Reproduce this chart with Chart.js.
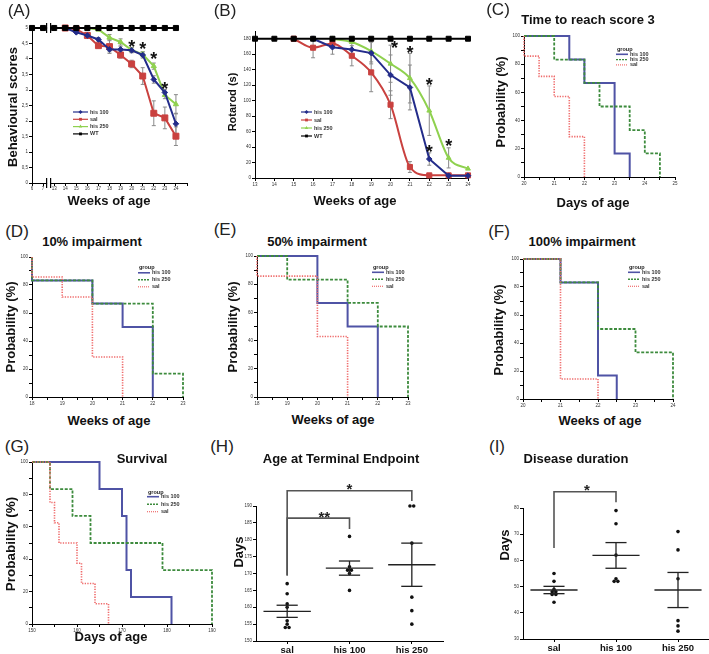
<!DOCTYPE html>
<html>
<head>
<meta charset="utf-8">
<title>Behaviour, rotarod and survival</title>
<script src="https://cdn.jsdelivr.net/npm/chart.js@4.4.1/dist/chart.umd.min.js"></script>
<style>
  html, body { margin: 0; padding: 0; background: #fff; }
  #fig { position: relative; width: 709px; height: 654px; overflow: hidden; background: #fff;
         font-family: "Liberation Sans", Arial, sans-serif; color: #111; }
  .box { position: absolute; z-index: 1; }
  .txt { position: absolute; white-space: nowrap; line-height: 1; z-index: 2;
         transform: translate(-50%, -50%); }
  .rot { transform: translate(-50%, -50%) rotate(-90deg); }
  .tag { font-size: 17px; color: #222; }
  .ttl { font-size: 13px; font-weight: bold; }
</style>
</head>
<body>
<div id="fig"></div>
<script>
// ---------- (A) behavioural scores ----------
const weeksA = ['6', '7', '13', '14', '15', '16', '17', '18', '19', '20', '21', '22', '23', '24'];
const scoreWT = [5, 5, 5, 5, 5, 5, 5, 5, 5, 5, 5, 5, 5, 5];
const scoreHis100 = [null, null, null, 5, 4.86, 4.76, 4.63, 4.31, 4.31, 4.28, 4.13, 3.34, 2.92, 1.91];
const scoreHis100Err = [null, null, null, null, 0.04, 0.05, 0.06, 0.08, 0.1, 0.08, 0.1, 0.12, 0.1, 0.34];
const scoreSal = [null, null, null, 5, 4.96, 4.76, 4.43, 4.4, 4.13, 3.84, 3.45, 2.25, 2.1, 1.51];
const scoreSalErr = [null, null, null, null, 0.03, 0.1, 0.06, 0.22, 0.1, 0.12, 0.27, 0.4, 0.35, 0.3];
const scoreHis250 = [null, null, null, 5, 5, 5, 4.95, 4.69, 4.55, 4.29, 4.15, 3.77, 2.84, 2.54];
const scoreHis250Err = [null, null, null, null, null, null, 0.04, 0.1, 0.1, 0.08, 0.08, 0.1, 0.12, 0.31];
const starsA = [['20', 4.53], ['21', 4.47], ['22', 4.15], ['23', 3.18]];

// ---------- (B) rotarod ----------
const weeksB = [13, 14, 15, 16, 17, 18, 19, 20, 21, 22, 23, 24];
const rotWT = [180, 180, 180, 180, 180, 180, 180, 180, 180, 180, 180, 180];
const rotHis100 = [null, null, null, 180, 169, 166, 161.5, 133, 117, 24.5, 3, 3];
const rotHis100Err = [null, null, null, null, 9, 8, 14, 26, 29, 8, null, null];
const rotSal = [null, null, 180, 168.4, 174, 158, 136.5, 94.7, 14.2, 3.4, 3.4, 3.4];
const rotSalErr = [null, null, null, 13, 6, 13, 25, 18, 7, null, null, null];
const rotHis250 = [null, null, null, null, 180, 175.7, 164, 147.7, 129, 87, 26, 12];
const rotHis250Err = [null, null, null, null, null, null, 14, 24, 32, 32, 13, null];
const starsB = [[20.2, 174], [21, 167], [22, 126], [22, 39], [23, 47]];

// ---------- (C) time to reach score 3 ----------
const cTime100 = [20, 21.5, 22, 23, 23.5];
const cProb100 = [100, 83.3, 66.7, 16.7, 0];
const cTime250 = [20, 21, 22, 22.5, 23.5, 24, 24.5];
const cProb250 = [100, 83.3, 66.7, 50, 33.3, 16.7, 0];
const cTimeSal = [20, 20, 20.5, 21, 21.5, 22];
const cProbSal = [100, 85.7, 71.4, 57.1, 28.6, 0];

// ---------- (D) 10% impairment ----------
const dTime100 = [18, 18, 20, 21, 22];
const dProb100 = [100, 83.3, 66.7, 50, 0];
const dTime250 = [18, 18, 20, 22, 23];
const dProb250 = [100, 83.3, 66.7, 16.7, 0];
const dTimeSal = [18, 18, 19, 20, 21];
const dProbSal = [100, 85.7, 71.4, 28.6, 0];

// ---------- (E) 50% impairment ----------
const eTime100 = [18, 20, 21, 22];
const eProb100 = [100, 66.7, 50, 0];
const eTime250 = [18, 19, 21, 22, 23];
const eProb250 = [100, 83.3, 66.7, 50, 0];
const eTimeSal = [18, 18, 20, 21];
const eProbSal = [100, 85.7, 42.9, 0];

// ---------- (F) 100% impairment ----------
const fTime100 = [20, 21, 22, 22.5];
const fProb100 = [100, 83.3, 16.7, 0];
const fTime250 = [20, 21, 22, 23, 24];
const fProb250 = [100, 83.3, 50, 33.3, 0];
const fTimeSal = [20, 21, 22];
const fProbSal = [100, 14.3, 0];

// ---------- (G) survival ----------
const gTime100 = [150, 165, 170, 171, 172, 181];
const gProb100 = [100, 83.3, 66.7, 33.3, 16.7, 0];
const gTime250 = [150, 154, 159, 163, 179, 190];
const gProb250 = [100, 83.3, 66.7, 50, 33.3, 0];
const gTimeSal = [150, 154, 155, 156, 160, 161, 164, 167];
const gProbSal = [100, 75, 62.5, 50, 37.5, 25, 12.5, 0];

// ---------- (H) age at terminal endpoint, (I) disease duration ----------
const groupsHI = ['sal', 'his 100', 'his 250'];
const endSal = [154, 154, 155, 156, 160, 161, 164, 167];
const endHis100 = [165, 170, 171, 171, 172, 181];
const endHis250 = [155, 159, 163, 179, 190, 190];
const endMean = [158.8, 171.6, 172.6];
const endSem = [1.8, 2.1, 6.4];
const durSal = [55, 52, 49, 48, 48, 47, 47, 44];
const durHis100 = [79, 74, 62, 53, 52, 52];
const durHis250 = [71, 64, 53, 37, 35, 33];
const durMean = [48.7, 61.9, 48.7];
const durSem = [1.4, 4.9, 6.7];

// ---------- styling ----------
const FONT = '"Liberation Sans", Arial, sans-serif';
const TICK_FONT = { family: FONT, size: 4.5 };
const BLUE = '#232c8a', RED = '#c9413f', GREEN = '#8fd14f', BLACK = '#000';
const BLUE_KM = '#4f53a5', GREEN_KM = '#3d8b3d', RED_KM = '#ef6c6c';
const AXW = 26;

const fig = document.getElementById('fig');

function mount(id, L, T, R, B, padT, padR, axh) {
  const d = document.createElement('div');
  d.className = 'box';
  d.style.left = (L - AXW) + 'px';
  d.style.top = (T - padT) + 'px';
  d.style.width = (R - L + AXW + padR) + 'px';
  d.style.height = (B - T + padT + axh) + 'px';
  const c = document.createElement('canvas');
  c.id = id;
  d.appendChild(c);
  fig.appendChild(d);
  return c;
}

function addText(text, cx, cy, cls, rot, size) {
  const s = document.createElement('div');
  s.className = 'txt ' + cls + (rot ? ' rot' : '');
  s.style.left = cx + 'px';
  s.style.top = cy + 'px';
  if (size) s.style.fontSize = size + 'px';
  s.textContent = text;
  fig.appendChild(s);
}

function baseOptions(padT, padR, scales) {
  return {
    responsive: true,
    maintainAspectRatio: false,
    animation: false,
    devicePixelRatio: 1,
    events: [],
    layout: { padding: { top: padT, right: padR, left: 0, bottom: 0 } },
    plugins: { legend: { display: false }, tooltip: { enabled: false }, title: { display: false } },
    scales
  };
}

function axisLook(height, width) {
  return {
    afterFit: s => {
      if (height) s.height = height;
      if (width) s.width = width;
    },
    border: { display: true, color: '#000', width: 1 },
    grid: { display: true, drawOnChartArea: false, drawTicks: true, tickLength: 3, color: '#000', lineWidth: 1 }
  };
}

function linAxis(min, max, step, fmt, axh) {
  return Object.assign(axisLook(axh, axh ? 0 : AXW), {
    type: 'linear', min, max,
    ticks: { stepSize: step, includeBounds: false, callback: fmt, font: TICK_FONT, color: '#333', padding: 1, autoSkip: false, maxRotation: 0 }
  });
}

// ---------- plugins ----------
const errorBars = {
  id: 'errorBars',
  beforeDatasetsDraw(chart) {
    const { ctx, scales: { y } } = chart;
    ctx.save();
    ctx.strokeStyle = '#8a8a8a';
    ctx.lineWidth = 1;
    chart.data.datasets.forEach((ds, i) => {
      if (!ds.errs) return;
      const meta = chart.getDatasetMeta(i);
      meta.data.forEach((pt, j) => {
        const e = ds.errs[j];
        const raw = ds.data[j];
        const v = raw !== null && typeof raw === 'object' ? raw.y : raw;
        if (e == null || v == null) return;
        const y0 = y.getPixelForValue(v - e), y1 = y.getPixelForValue(v + e);
        ctx.beginPath();
        ctx.moveTo(pt.x, y0); ctx.lineTo(pt.x, y1);
        ctx.moveTo(pt.x - 2, y0); ctx.lineTo(pt.x + 2, y0);
        ctx.moveTo(pt.x - 2, y1); ctx.lineTo(pt.x + 2, y1);
        ctx.stroke();
      });
    });
    ctx.restore();
  }
};

function starPlugin(list, size) {
  return {
    id: 'stars',
    afterDatasetsDraw(chart) {
      const { ctx, scales: { x, y } } = chart;
      ctx.save();
      ctx.fillStyle = '#111';
      ctx.textAlign = 'center';
      ctx.textBaseline = 'alphabetic';
      ctx.font = 'bold ' + size + 'px ' + FONT;
      list.forEach(([sx, sy]) => ctx.fillText('*', x.getPixelForValue(sx), y.getPixelForValue(sy) + size * 0.57));
      ctx.restore();
    }
  };
}

function legendPlugin(o) {
  return {
    id: 'inlegend',
    afterDraw(chart) {
      const { ctx, chartArea: a } = chart;
      const x = a.left + o.dx;
      let y = a.top + o.dy;
      ctx.save();
      ctx.textBaseline = 'middle';
      ctx.textAlign = 'left';
      ctx.font = 'bold ' + o.size + 'px ' + FONT;
      if (o.header) {
        ctx.fillStyle = '#222';
        ctx.fillText(o.header, x + 1, y);
        y += o.gap;
      }
      o.items.forEach(it => {
        ctx.strokeStyle = it.color;
        ctx.lineWidth = it.width || 1.2;
        ctx.setLineDash(it.dash || []);
        ctx.beginPath();
        ctx.moveTo(x, y); ctx.lineTo(x + o.len, y);
        ctx.stroke();
        ctx.setLineDash([]);
        if (it.point) {
          ctx.fillStyle = it.color;
          Chart.helpers.drawPoint(ctx, { pointStyle: it.point, radius: 2, borderWidth: 0, rotation: 0 }, x + o.len / 2, y);
        }
        ctx.fillStyle = '#333';
        ctx.fillText(it.label, x + o.len + 2, y);
        y += o.row;
      });
      ctx.restore();
    }
  };
}

function breakPlugin(at, levels) {
  return {
    id: 'axisBreak',
    afterDraw(chart) {
      const { ctx, scales: { x, y } } = chart;
      const px = x.getPixelForValue(at);
      levels.forEach(v => {
        const py = y.getPixelForValue(v);
        ctx.save();
        ctx.fillStyle = '#fff';
        ctx.fillRect(px - 1.5, py - 2, 3, 4);
        ctx.strokeStyle = '#000';
        ctx.lineWidth = 1.2;
        [-2, 2].forEach(d => {
          ctx.beginPath();
          ctx.moveTo(px + d, py - 5); ctx.lineTo(px + d, py + 5);
          ctx.stroke();
        });
        ctx.restore();
      });
    }
  };
}

function meanSemPlugin(means, sems) {
  return {
    id: 'meanSem',
    afterDatasetsDraw(chart) {
      const { ctx, scales: { x, y } } = chart;
      const seg = (x0, y0, x1, y1) => {
        ctx.beginPath();
        ctx.moveTo(x.getPixelForValue(x0), y.getPixelForValue(y0));
        ctx.lineTo(x.getPixelForValue(x1), y.getPixelForValue(y1));
        ctx.stroke();
      };
      ctx.save();
      ctx.strokeStyle = '#222';
      ctx.lineWidth = 1.3;
      means.forEach((m, g) => {
        const s = sems[g];
        seg(g - 0.38, m, g + 0.38, m);
        seg(g, m - s, g, m + s);
        seg(g - 0.17, m + s, g + 0.17, m + s);
        seg(g - 0.17, m - s, g + 0.17, m - s);
      });
      ctx.restore();
    }
  };
}

function bracketPlugin(list) {
  return {
    id: 'brackets',
    afterDraw(chart) {
      const { ctx, scales: { x, y } } = chart;
      ctx.save();
      ctx.strokeStyle = '#555';
      ctx.lineWidth = 1.6;
      list.forEach(b => {
        const xa = x.getPixelForValue(b.a), xb = x.getPixelForValue(b.b), yt = y.getPixelForValue(b.top);
        ctx.beginPath();
        ctx.moveTo(xa, y.getPixelForValue(b.downA));
        ctx.lineTo(xa, yt);
        ctx.lineTo(xb, yt);
        ctx.lineTo(xb, y.getPixelForValue(b.downB));
        ctx.stroke();
        ctx.fillStyle = '#222';
        ctx.textAlign = 'center';
        ctx.textBaseline = 'alphabetic';
        ctx.font = 'bold 15px ' + FONT;
        ctx.fillText(b.label, (xa + xb) / 2 + b.shift, yt - 5 + 15 * 0.57);
      });
      ctx.restore();
    }
  };
}

// ---------- builders ----------
function lineSet(label, data, color, point, radius, errs, extra) {
  return Object.assign({
    label, data, errs,
    borderColor: color, backgroundColor: color,
    pointBackgroundColor: color, pointBorderColor: color, pointBorderWidth: 1,
    pointStyle: point, pointRadius: radius,
    borderWidth: 2, tension: 0, clip: false, spanGaps: false
  }, extra || {});
}

function pairs(xs, ys) {
  return xs.map((v, i) => ({ x: v, y: ys[i] }));
}

function kmSet(label, times, probs, color, dash, width) {
  return {
    label, data: pairs(times, probs),
    borderColor: color, borderDash: dash, borderWidth: width,
    pointRadius: 0, stepped: true, fill: false, clip: false
  };
}

const KM_ITEMS = [
  { label: 'his 100', color: BLUE_KM, width: 1.6 },
  { label: 'his 250', color: GREEN_KM, width: 1.4, dash: [2, 1] },
  { label: 'sal', color: RED_KM, width: 1.2, dash: [1, 1] }
];

function kmChart(id, rect, xmin, xmax, xstep, xmajor, s100, s250, sSal, lg) {
  const [L, T, R, B] = rect;
  return new Chart(mount(id, L, T, R, B, 6, 8, 12), {
    type: 'line',
    data: {
      datasets: [
        kmSet('sal', sSal[0], sSal[1], RED_KM, [1.3, 1.3], 1.6),
        kmSet('his 250', s250[0], s250[1], GREEN_KM, [3, 1.6], 1.8),
        kmSet('his 100', s100[0], s100[1], BLUE_KM, [], 2)
      ]
    },
    options: baseOptions(6, 8, {
      x: linAxis(xmin, xmax, xstep, v => (v % xmajor === 0 ? v : ''), 12),
      y: linAxis(0, 100, 10, v => (v % 20 === 0 ? v : ''))
    }),
    plugins: [legendPlugin(Object.assign({ header: 'group', size: 5.5, len: 12, items: KM_ITEMS }, lg))]
  });
}

function swarm(vals, g, tol) {
  return vals.map((v, i) => {
    const same = vals.filter(u => Math.abs(u - v) < tol).length;
    const k = vals.slice(0, i).filter(u => Math.abs(u - v) < tol).length;
    return { x: g + (k - (same - 1) / 2) * 0.06, y: v };
  });
}

function dotChart(id, rect, padT, axh, ymin, ymax, ystep, groups, means, sems, brackets) {
  const [L, T, R, B] = rect;
  const xAxis = Object.assign(axisLook(axh, 0), {
    type: 'linear', min: -0.5, max: 2.5,
    afterBuildTicks: s => { s.ticks = groupsHI.map((g, i) => ({ value: i })); },
    ticks: { callback: v => groupsHI[v], font: { family: FONT, size: 9.5, weight: 'bold' }, color: '#111', padding: 1, autoSkip: false, maxRotation: 0 }
  });
  return new Chart(mount(id, L, T, R, B, padT, 6, axh), {
    type: 'scatter',
    data: {
      datasets: groups.map((vals, g) => ({
        label: groupsHI[g], data: swarm(vals, g, 0.6),
        pointRadius: 1.8, pointBackgroundColor: '#111', pointBorderColor: '#111', pointBorderWidth: 0, clip: false
      }))
    },
    options: baseOptions(padT, 6, { x: xAxis, y: linAxis(ymin, ymax, ystep, v => v) }),
    plugins: [meanSemPlugin(means, sems), bracketPlugin(brackets)]
  });
}

// ---------- (A) ----------
new Chart(mount('chartA', 32, 28, 187, 183, 10, 8, 12), {
  type: 'line',
  data: {
    labels: [...weeksA, ''],
    datasets: [
      lineSet('WT', scoreWT, BLACK, 'rect', 3.6),
      lineSet('his 100', scoreHis100, BLUE, 'rectRot', 2.8, scoreHis100Err),
      lineSet('sal', scoreSal, RED, 'rect', 4.2, scoreSalErr),
      lineSet('his 250', scoreHis250, GREEN, 'triangle', 3, scoreHis250Err)
    ]
  },
  options: baseOptions(10, 8, {
    x: Object.assign(axisLook(12, 0), {
      type: 'category', offset: false,
      ticks: { font: TICK_FONT, color: '#333', padding: 0, autoSkip: false, maxRotation: 0 }
    }),
    y: linAxis(0, 5, 0.5, v => String(v).replace('.', ','))
  }),
  plugins: [
    errorBars,
    starPlugin(starsA.map(([w, v]) => [weeksA.indexOf(w), v]), 18),
    legendPlugin({ dx: 41, dy: 84, len: 15, row: 7.3, size: 5.5, items: [
      { label: 'his 100', color: BLUE, point: 'rectRot' },
      { label: 'sal', color: RED, point: 'rect' },
      { label: 'his 250', color: GREEN, point: 'triangle' },
      { label: 'WT', color: BLACK, point: 'rect' }
    ] }),
    breakPlugin(1.5, [5, 0])
  ]
});

// ---------- (B) ----------
new Chart(mount('chartB', 255, 31, 468, 178, 6, 8, 12), {
  type: 'line',
  data: {
    datasets: [
      lineSet('WT', pairs(weeksB, rotWT), BLACK, 'rect', 3.5),
      lineSet('his 100', pairs(weeksB, rotHis100), BLUE, 'rectRot', 2.8, rotHis100Err),
      lineSet('sal', pairs(weeksB, rotSal), RED, 'rect', 3.6, rotSalErr, { tension: 0.25, cubicInterpolationMode: 'monotone' }),
      lineSet('his 250', pairs(weeksB, rotHis250), GREEN, 'triangle', 2.8, rotHis250Err, { tension: 0.35, cubicInterpolationMode: 'monotone' })
    ]
  },
  options: baseOptions(6, 8, {
    x: linAxis(13, 24, 1, v => v, 12),
    y: linAxis(0, 190, 20, v => v)
  }),
  plugins: [
    errorBars,
    starPlugin(starsB, 18),
    legendPlugin({ dx: 46, dy: 81, len: 11, row: 8, size: 5.5, items: [
      { label: 'his 100', color: BLUE, point: 'rectRot' },
      { label: 'sal', color: RED, point: 'rect' },
      { label: 'his 250', color: GREEN, point: 'triangle' },
      { label: 'WT', color: BLACK, point: 'rect' }
    ] })
  ]
});

// ---------- (C) - (G) ----------
kmChart('chartC', [524, 36, 675, 177], 20, 25, 0.5, 1,
  [cTime100, cProb100], [cTime250, cProb250], [cTimeSal, cProbSal], { dx: 92, dy: 13, gap: 5.3, row: 5.3 });
kmChart('chartD', [32, 257, 183, 397], 18, 23, 0.5, 1,
  [dTime100, dProb100], [dTime250, dProb250], [dTimeSal, dProbSal], { dx: 106, dy: 10.3, gap: 5.5, row: 7 });
kmChart('chartE', [257, 256, 408, 397], 18, 23, 0.5, 1,
  [eTime100, eProb100], [eTime250, eProb250], [eTimeSal, eProbSal], { dx: 115, dy: 11, gap: 5.3, row: 7 });
kmChart('chartF', [523, 259, 673, 399], 20, 24, 0.5, 1,
  [fTime100, fProb100], [fTime250, fProb250], [fTimeSal, fProbSal], { dx: 105, dy: 8, gap: 5.3, row: 7 });
kmChart('chartG', [32, 462, 212, 624], 150, 190, 5, 10,
  [gTime100, gProb100], [gTime250, gProb250], [gTimeSal, gProbSal], { dx: 115, dy: 30, gap: 4.7, row: 7.5 });

// ---------- (H), (I) ----------
dotChart('chartH', [256, 506, 443, 641], 30, 13, 150, 190, 5,
  [endSal, endHis100, endHis250], endMean, endSem, [
    { a: 0, b: 2, top: 194.5, downA: 169.4, downB: 191.5, label: '*', shift: 0 },
    { a: 0, b: 1, top: 186.4, downA: 169.4, downB: 183.2, label: '**', shift: 6 }
  ]);
dotChart('chartI', [523, 508, 709, 639], 30, 15, 30, 80, 10,
  [durSal, durHis100, durHis250], durMean, durSem, [
    { a: 0, b: 1, top: 86.2, downA: 64.7, downB: 82.2, label: '*', shift: 2 }
  ]);

// ---------- text ----------
[['(A)', 19, 10], ['(B)', 225, 10], ['(C)', 498, 9], ['(D)', 17, 231], ['(E)', 225, 229],
 ['(F)', 499, 231], ['(G)', 17, 446], ['(H)', 222, 446], ['(I)', 497, 446]]
  .forEach(([t, x, y]) => addText(t, x, y, 'tag'));
[['Time to reach score 3', 588, 19], ['10% impairment', 92, 241], ['50% impairment', 317, 241],
 ['100% impairment', 582, 241], ['Survival', 142, 458], ['Age at Terminal Endpoint', 341, 458],
 ['Disease duration', 576, 458]]
  .forEach(([t, x, y]) => addText(t, x, y, 'ttl'));
[['Weeks of age', 109, 200], ['Weeks of age', 355, 200], ['Days of age', 593, 202],
 ['Weeks of age', 109, 420], ['Weeks of age', 333, 419], ['Weeks of age', 600, 420], ['Days of age', 111, 636]]
  .forEach(([t, x, y]) => addText(t, x, y, 'ttl'));
[['Behavioural scores', 12, 107, 13], ['Rotarod (s)', 232, 102, 11], ['Probability (%)', 500, 102, 13],
 ['Probability (%)', 10, 327, 13], ['Probability (%)', 232, 327, 13], ['Probability (%)', 498, 330, 13],
 ['Probability (%)', 11, 544, 13.5], ['Days', 238, 552, 13], ['Days', 504, 545, 13]]
  .forEach(([t, x, y, s]) => addText(t, x, y, 'ttl', true, s));
</script>
</body>
</html>
